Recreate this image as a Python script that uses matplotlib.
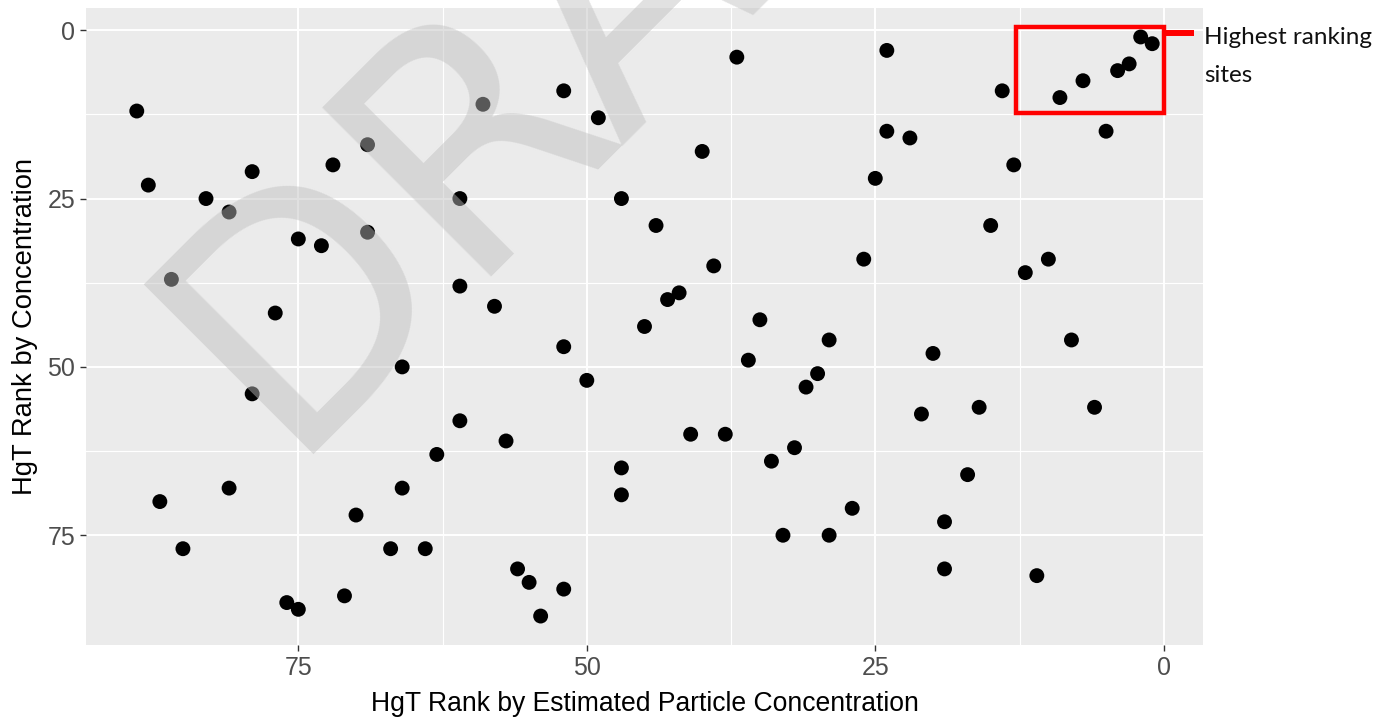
import matplotlib
matplotlib.use("Agg")
import matplotlib.pyplot as plt
from matplotlib.patches import Rectangle

# HgT rank by estimated particle concentration (x) vs rank by concentration (y)
particle_rank = [89, 88, 83, 81, 79, 86, 75, 73, 72, 69, 69, 77, 61, 61, 59, 52, 49, 37,
                 24, 24, 22, 40, 25, 47, 44, 39, 26, 58, 43, 42, 45, 35, 29, 52, 36, 20,
                 2, 1, 3, 4, 7, 9, 14, 5, 13, 15, 10, 12, 8,
                 87, 85, 81, 79, 66, 61, 63, 66, 70, 67, 64, 76, 75, 71,
                 50, 57, 47, 47, 41, 38, 30, 31, 32, 34, 27, 33, 29, 21,
                 56, 55, 52, 54, 16, 6, 17, 19, 19, 11]
conc_rank = [12, 23, 25, 27, 21, 37, 31, 32, 20, 17, 30, 42, 25, 38, 11, 9, 13, 4,
             3, 15, 16, 18, 22, 25, 29, 35, 34, 41, 40, 39, 44, 43, 46, 47, 49, 48,
             1, 2, 5, 6, 7.5, 10, 9, 15, 20, 29, 34, 36, 46,
             70, 77, 68, 54, 50, 58, 63, 68, 72, 77, 77, 85, 86, 84,
             52, 61, 65, 69, 60, 60, 51, 53, 62, 64, 71, 75, 75, 57,
             80, 82, 83, 87, 56, 56, 66, 73, 80, 81]

breaks = [0, 25, 50, 75]
minor_breaks = [12.5, 37.5, 62.5]

x_title = "HgT Rank by Estimated Particle Concentration"
y_title = "HgT Rank by Concentration"
note_lines = ["Highest ranking", "sites"]
# box around the top-ranked sites: x from, x to, y from, y to
box_x = [12.8, -0.05]
box_y = [-0.45, 12.3]

W, H = 1389, 721
fig = plt.figure(figsize=(W / 100, H / 100), dpi=100)
ax = fig.add_axes([86 / W, 1 - 645 / H, (1203 - 86) / W, (645 - 8) / H])

# ggplot-like 5% expansion, both axes reversed
def lims(v):
    pad = (max(v) - min(v)) * 0.05
    return max(v) + pad, min(v) - pad

ax.set_xlim(*lims(particle_rank))
ax.set_ylim(*lims(conc_rank))

ax.set_facecolor("#EBEBEB")
for s in ax.spines.values():
    s.set_visible(False)
ax.set_xticks(breaks)
ax.set_yticks(breaks)
ax.set_xticks(minor_breaks, minor=True)
ax.set_yticks(minor_breaks, minor=True)
ax.grid(which="major", color="white", linewidth=1.4)
ax.grid(which="minor", color="white", linewidth=0.8)
ax.set_axisbelow(True)
ax.tick_params(which="major", length=4.3, width=1.0, color="#333333",
               labelsize=18, labelcolor="#4D4D4D", pad=3.5)
ax.tick_params(which="minor", length=0)
for lab in ax.get_xticklabels() + ax.get_yticklabels():
    lab.set_fontfamily("Liberation Sans")

ax.scatter(particle_rank, conc_rank, s=115, color="black", edgecolors="none", zorder=3)

ax.set_xlabel(x_title, fontsize=19.1, family="Liberation Sans", color="black", labelpad=8)
ax.set_ylabel(y_title, fontsize=19.7, family="Liberation Sans", color="black", labelpad=7)

# annotation box and label
ax.add_patch(Rectangle((box_x[0], box_y[0]), box_x[1] - box_x[0], box_y[1] - box_y[0],
                       fill=False, edgecolor="red", linewidth=3.2, zorder=5, clip_on=False))
ax.plot([box_x[1], -2.65], [0.4, 0.4], color="red", linewidth=4.3, zorder=5,
        clip_on=False, solid_capstyle="butt")
fig.text(1204 / W, 1 - 44 / H, note_lines[0], fontsize=17.5, family="Lato",
         color="#111111", ha="left", va="baseline")
fig.text(1204 / W, 1 - 81.7 / H, note_lines[1], fontsize=17.5, family="Lato",
         color="#111111", ha="left", va="baseline")

# DRAFT watermark over everything
fig.text(282 / W, 1 - 454 / H, "DRAFT", rotation=45, rotation_mode="anchor",
         ha="left", va="baseline", fontsize=236, family="DejaVu Sans",
         color=(0.75, 0.75, 0.75), alpha=0.47, zorder=10)

fig.savefig("out.png", dpi=100)
